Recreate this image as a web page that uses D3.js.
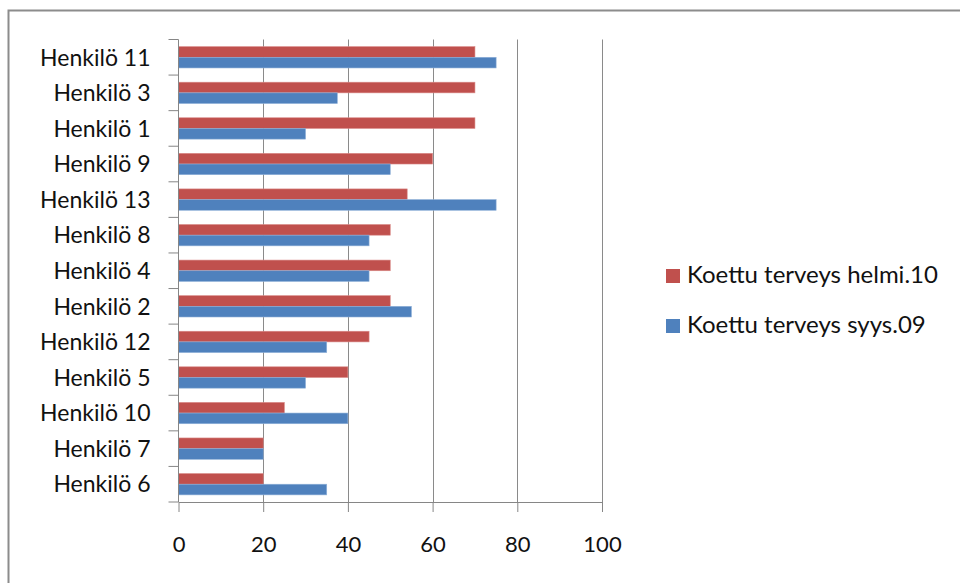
<html>
	<head>
		<meta charset="utf-8">
		<title>Koettu terveys</title>
		<script src="https://d3js.org/d3.v7.min.js"></script>
		<style>
			body { margin: 0; background: #fff; }
			svg text { font-family: Lato, "Open Sans", sans-serif; fill: #111; }
		</style>
	</head>
	<body>
		<div id="chart"></div>

	<script type="text/javascript">
		// categories, top to bottom
		var persons = ["Henkilö 11", "Henkilö 3", "Henkilö 1", "Henkilö 9", "Henkilö 13", "Henkilö 8",
			"Henkilö 4", "Henkilö 2", "Henkilö 12", "Henkilö 5", "Henkilö 10", "Henkilö 7", "Henkilö 6"];
		var helmi10 = [70, 70, 70, 60, 54, 50, 50, 50, 45, 40, 25, 20, 20];
		var syys09 = [75, 37.5, 30, 50, 75, 45, 45, 55, 35, 30, 40, 20, 35];
		var seriesNames = ["Koettu terveys helmi.10", "Koettu terveys syys.09"];
		var seriesColors = ["#C0504D", "#4F81BD"];
		var xTicks = [0, 20, 40, 60, 80, 100];

		var width = 960, height = 583;
		var margin = {top: 39.5, left: 178.5, right: 358, bottom: 81};

		var svg = d3.select("#chart")
		  .append("svg")
		    .attr("width", width)
		    .attr("height", height);

		// outer chart border (cut off at right and bottom)
		svg.append("rect")
			.attr("x", 8.5).attr("y", 10.5)
			.attr("width", 980).attr("height", 600)
			.attr("fill", "none")
			.attr("stroke", "#8c8c8c")
			.attr("stroke-width", 2);

		var x = d3.scaleLinear()
			.domain([0, 100])
			.range([margin.left, width - margin.right]);

		var y = d3.scaleBand()
			.domain(persons)
			.range([margin.top, height - margin.bottom])
			.paddingInner(0.4)
			.paddingOuter(0.2);

		var step = y.step();
		var sub = d3.scaleBand()
			.domain([0, 1])
			.range([0, y.bandwidth()]);

		// vertical gridlines
		svg.append("g")
			.selectAll("line")
			.data(xTicks.slice(1))
			.enter()
			.append("line")
				.attr("x1", function(d) { return Math.round(x(d)) + 0.5; })
				.attr("x2", function(d) { return Math.round(x(d)) + 0.5; })
				.attr("y1", margin.top)
				.attr("y2", height - margin.bottom)
				.attr("stroke", "#8a8a8a");

		// bars
		var rows = persons.map(function(p, i) { return {name: p, vals: [helmi10[i], syys09[i]]}; });
		var grp = svg.append("g")
			.selectAll("g")
			.data(rows)
			.enter()
			.append("g")
				.attr("transform", function(d) { return "translate(0," + y(d.name) + ")"; });
		grp.selectAll("rect")
			.data(function(d) { return d.vals; })
			.enter()
			.append("rect")
				.attr("x", x(0))
				.attr("y", function(d, i) { return sub(i); })
				.attr("width", function(d) { return x(d) - x(0); })
				.attr("height", sub.bandwidth())
				.attr("fill", function(d, i) { return seriesColors[i]; })
				.attr("stroke", function(d, i) { return i == 0 ? "#d98a88" : "#8fb0d8"; })
				.attr("stroke-width", 0.6);

		// y axis: line + tick marks between categories
		var yAxis = svg.append("g");
		yAxis.append("line")
			.attr("x1", x(0)).attr("x2", x(0))
			.attr("y1", margin.top).attr("y2", height - margin.bottom)
			.attr("stroke", "#868686");
		yAxis.selectAll("line.tick")
			.data(d3.range(persons.length + 1))
			.enter()
			.append("line")
				.attr("class", "tick")
				.attr("x1", x(0) - 10).attr("x2", x(0))
				.attr("y1", function(i) { return margin.top + i * step; })
				.attr("y2", function(i) { return margin.top + i * step; })
				.attr("stroke", "#868686");
		yAxis.selectAll("text")
			.data(persons)
			.enter()
			.append("text")
				.attr("x", x(0) - 28)
				.attr("y", function(d) { return y(d) + y.bandwidth() / 2; })
				.attr("dy", "0.36em")
				.attr("text-anchor", "end")
				.style("font-size", "23px")
				.text(function(d) { return d; });

		// x axis
		var xAxis = svg.append("g")
			.attr("transform", "translate(0," + (height - margin.bottom) + ")")
			.call(d3.axisBottom(x).tickValues(xTicks).tickSize(10).tickPadding(24).tickSizeOuter(0));
		xAxis.select(".domain").attr("stroke", "#868686");
		xAxis.selectAll(".tick line").attr("stroke", "#868686");
		xAxis.selectAll(".tick text")
			.style("font-size", "22px")
			.attr("fill", "#111")
			.style("font-family", "Lato, 'Open Sans', sans-serif");

		// legend
		var legend = svg.append("g")
			.selectAll("g")
			.data(seriesNames)
			.enter()
			.append("g")
				.attr("transform", function(d, i) { return "translate(666," + (269 + i * 50) + ")"; });
		legend.append("rect")
			.attr("width", 14).attr("height", 14)
			.attr("fill", function(d, i) { return seriesColors[i]; });
		legend.append("text")
			.attr("x", 21).attr("y", 14)
			.style("font-size", "24px")
			.text(function(d) { return d; });
	</script>

	</body>
</html>
